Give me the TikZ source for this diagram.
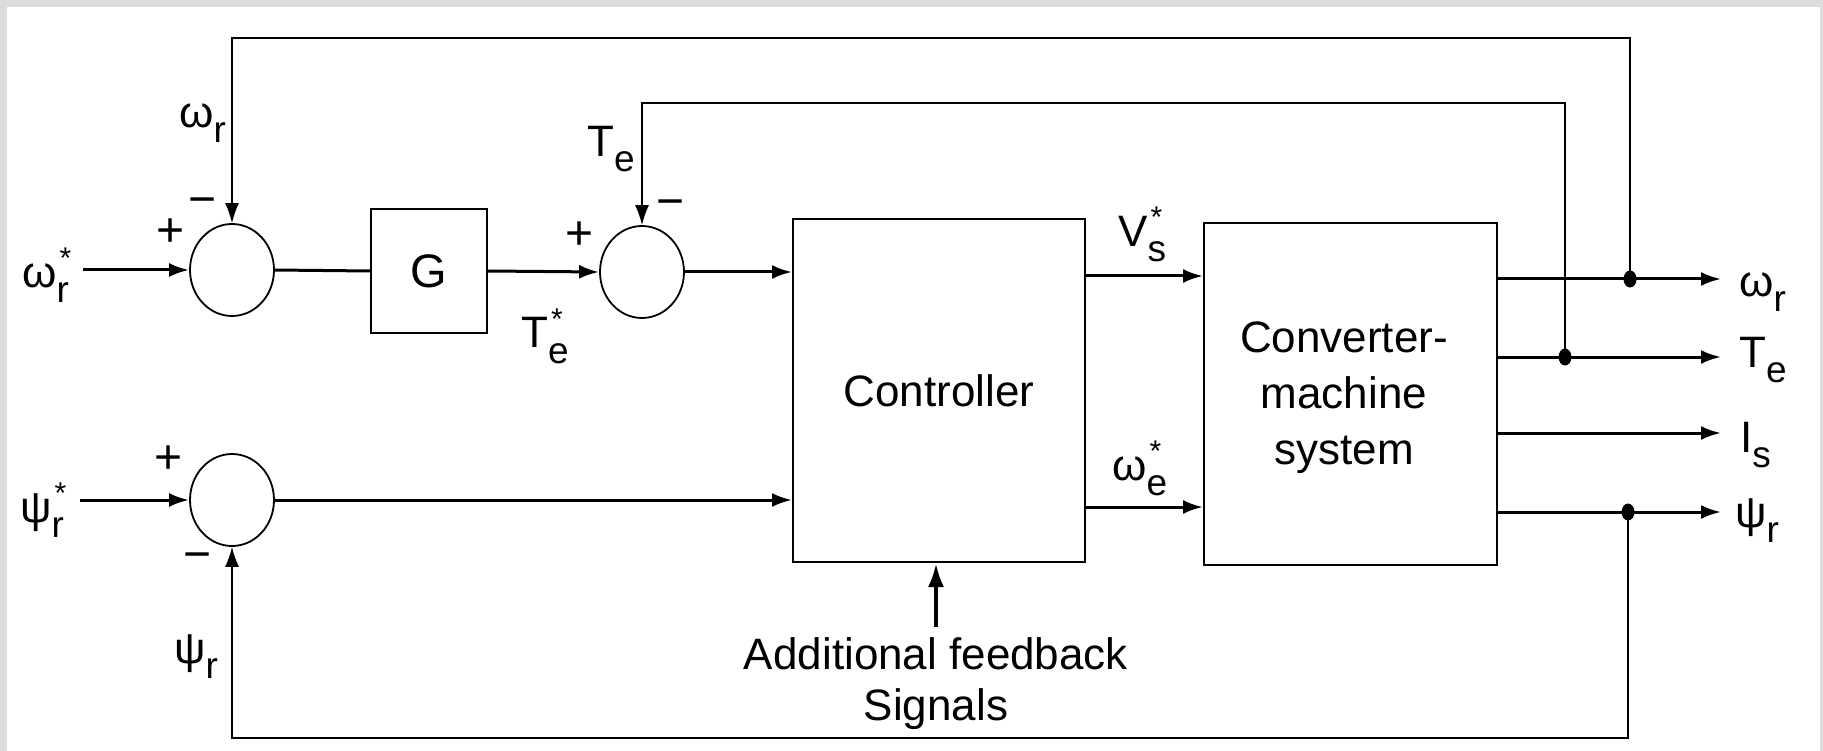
\documentclass[tikz,border=0pt]{standalone}
\usepackage{fontspec}
\setmainfont{Liberation Sans}
\usetikzlibrary{arrows.meta,shapes.geometric}
\definecolor{framegray}{HTML}{DCDCDC}
% main symbol, subscript, superscript star
\newcommand\lbl[3]{#1\rlap{\hspace{3pt}\raisebox{19pt}{\fontsize{30}{30}\selectfont #3}}\raisebox{-15pt}{\fontsize{37}{37}\selectfont #2}}
\begin{document}
\begin{tikzpicture}[x=1pt,y=-1pt,
  >={Latex[length=20pt,width=14pt]},
  sum/.style={ellipse,draw,line width=1.8pt,inner sep=0pt,minimum width=84pt,minimum height=92pt},
  blk/.style={draw,line width=2pt,inner sep=0pt,font=\fontsize{44}{58}\selectfont,align=center},
  sig/.style={line width=3pt},
  fb/.style={line width=1.4pt},
  fbh/.style={line width=2.8pt},
  lab/.style={inner sep=0pt,anchor=base west,font=\fontsize{44}{50}\selectfont},
  pm/.style={inner sep=0pt,font=\fontsize{48}{50}\selectfont},
  dot/.style={ellipse,fill,inner sep=0pt,minimum width=13pt,minimum height=17pt}]
\fill[framegray] (0,0) rectangle (1823,751);
\fill[white] (7,7) rectangle (1820,751);
\useasboundingbox (0,0) rectangle (1823,751);

% summing junctions and blocks
\node[sum] (s1) at (232,270) {};
\node[sum] (s2) at (642,272) {};
\node[sum] (s3) at (232,500) {};
\node[blk,minimum width=116pt,minimum height=124pt,font=\fontsize{47}{50}\selectfont] (G) at (429,271) {G};
\node[blk,minimum width=292pt,minimum height=343pt] (ctrl) at (939,390.5) {Controller};
\node[blk,minimum width=293pt,minimum height=342pt] (conv) at (1350.5,394) {};
\node[inner sep=0pt,font=\fontsize{44}{56}\selectfont,align=center] (convt) at (1344,398) {Converter-\\machine\\system};

% signs
\node[pm] (p1) at (171,233) {+};
\node[pm] (m1) at (203,207) {−};
\node[pm] (p2) at (580,236) {+};
\node[pm] (m2) at (671,209) {−};
\node[pm] (p3) at (169,460) {+};
\node[pm] (m3) at (198,562) {−};

% coordinates
\coordinate (in1) at (83,270);
\coordinate (in2) at (80,500);
\coordinate (o1) at (1721,279);
\coordinate (o2) at (1721,357);
\coordinate (o3) at (1721,433);
\coordinate (o4) at (1721,512);
\coordinate (fbtop) at (0,38);
\coordinate (fbte) at (0,103);
\coordinate (fbbot) at (0,738);
\coordinate (addst) at (936,627);
\node[dot] (d1) at (1630,279) {};
\node[dot] (d2) at (1565,357) {};
\node[dot] (d4) at (1628,512) {};

% forward path
\draw[sig,->] (in1) -- (s1.west);
\draw[sig] (s1.east) -- (G.west);
\draw[sig,->] (G.east) -- (s2.west);
\draw[sig,->] (s2.east) -- (s2.east -| ctrl.west);
\draw[sig,->] (in2) -- (s3.west);
\draw[sig,->] (s3.east) -- (s3.east -| ctrl.west);
\draw[sig,->] ([yshift=114.5pt]ctrl.east) -- ([yshift=114.5pt]ctrl.east -| conv.west);
\draw[sig,->] ([yshift=-116.5pt]ctrl.east) -- ([yshift=-116.5pt]ctrl.east -| conv.west);
\draw[sig,->] (o1 -| conv.east) -- (o1);
\draw[sig,->] (o2 -| conv.east) -- (o2);
\draw[sig,->] (o3 -| conv.east) -- (o3);
\draw[sig,->] (o4 -| conv.east) -- (o4);
\draw[line width=4pt,-{Latex[length=24pt,width=16pt]}] (addst) -- (addst |- ctrl.south);

% feedback paths
\draw[fb,->] (d1.center) -- (d1 |- fbtop) -| (s1.north);
\draw[fbh] (d1 |- fbtop) -- (s1 |- fbtop);
\draw[fb,->] (d2.center) -- (d2 |- fbte) -| (s2.north);
\draw[fbh] (d2 |- fbte) -- (s2 |- fbte);
\draw[fb,->] (d4.center) -- (d4 |- fbbot) -| (s3.south);
\draw[fbh] (d4 |- fbbot) -- (s3 |- fbbot);

% labels
\node[lab] (lwr) at (22,288) {\lbl{ω}{r}{*}};
\node[lab] (lpr) at (20,522) {\lbl{ψ}{r}{*}};
\node[lab] (fwr) at (179,128) {\lbl{ω}{r}{}};
\node[lab] (fte) at (587,157) {\lbl{T}{e}{}};
\node[lab] (lte) at (521,348) {\lbl{T}{e}{*}};
\node[lab] (lvs) at (1118,247) {\lbl{V}{s}{*}};
\node[lab] (lwe) at (1112,480) {\lbl{ω}{e}{*}};
\node[lab] (owr) at (1739,297) {\lbl{ω}{r}{}};
\node[lab] (ote) at (1739,367) {\lbl{T}{e}{}};
\node[lab] (ois) at (1740,452) {\lbl{I}{s}{}};
\node[lab] (opr) at (1735,527) {\lbl{ψ}{r}{}};
\node[lab] (fpr) at (174,663) {\lbl{ψ}{r}{}};
\node[inner sep=0pt,font=\fontsize{44}{51}\selectfont,align=center] (addtxt) at (936,684) {Additional feedback\\Signals};
\end{tikzpicture}
\end{document}
